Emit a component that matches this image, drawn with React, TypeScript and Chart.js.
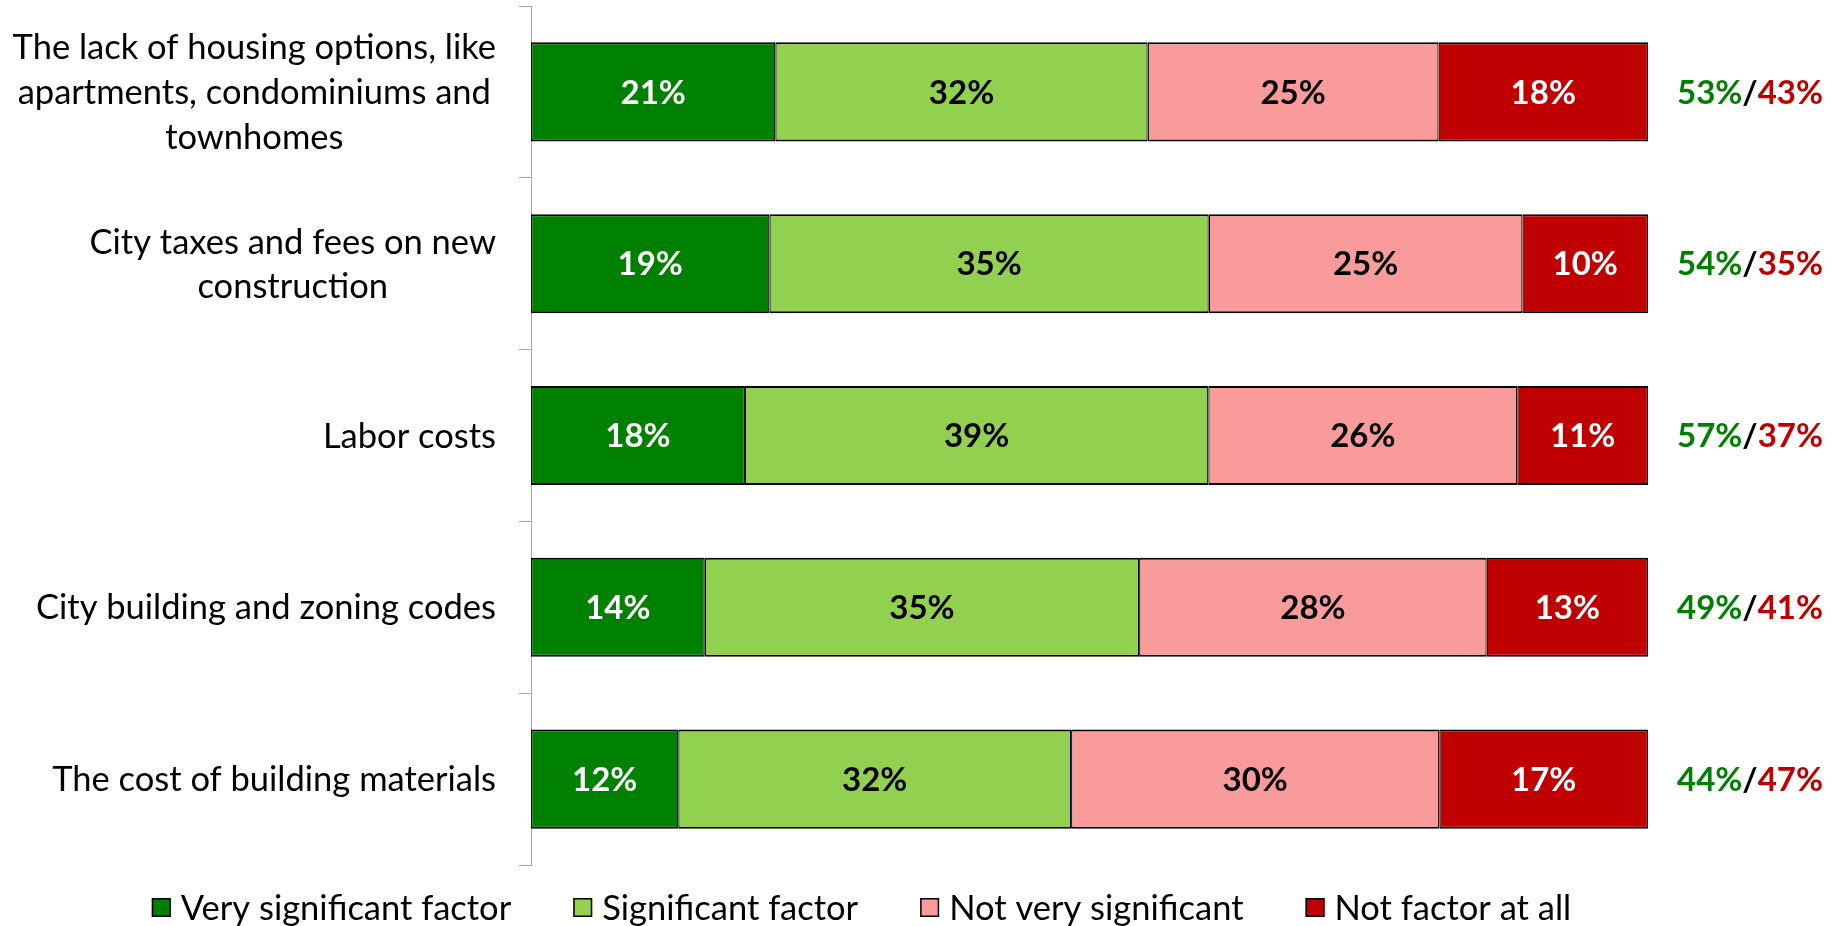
import React, { useEffect, useRef } from "react";
import { Chart, registerables } from "chart.js";

Chart.register(...registerables);

const categories: string[][] = [
  ["The lack of housing options, like", "apartments, condominiums and", "townhomes"],
  ["City taxes and fees on new", "construction"],
  ["Labor costs"],
  ["City building and zoning codes"],
  ["The cost of building materials"],
];
const seriesNames = ["Very significant factor", "Significant factor", "Not very significant", "Not factor at all"];
const verySignificant = [21, 19, 18, 14, 12];
const significant = [32, 35, 39, 35, 32];
const notVerySignificant = [25, 25, 26, 28, 30];
const notAtAll = [18, 10, 11, 13, 17];
const netSignificant = [53, 54, 57, 49, 44];
const netNotSignificant = [43, 35, 37, 41, 47];

const seriesColors = ["#008000", "#92D050", "#F99B9B", "#C00000"];
const labelColors = ["#FFFFFF", "#000000", "#000000", "#FFFFFF"];
const FONT = "Lato, 'Noto Sans', sans-serif";
const BOLD_SIZE = 33;
const TEXT_SIZE = 34.5;

const W = 1841;
const H = 926;

const labelsPlugin = {
  id: "customLabels",
  afterDatasetsDraw(chart: any) {
    const ctx = chart.ctx as CanvasRenderingContext2D;
    const area = chart.chartArea;
    const yScale = chart.scales.y;
    ctx.save();
    // data labels inside bars
    ctx.font = `bold ${BOLD_SIZE}px ${FONT}`;
    ctx.textAlign = "center";
    ctx.textBaseline = "middle";
    chart.data.datasets.forEach((ds: any, di: number) => {
      const meta = chart.getDatasetMeta(di);
      meta.data.forEach((bar: any, i: number) => {
        const x = (bar.x + bar.base) / 2;
        ctx.fillStyle = labelColors[di];
        ctx.fillText(`${ds.raw[i]}%`, x, bar.y + 1);
      });
    });
    // net labels on the right
    ctx.textAlign = "left";
    categories.forEach((_, i) => {
      const y = yScale.getPixelForValue(i) + 1;
      let x = area.right + 29;
      const parts: [string, string][] = [
        [`${netSignificant[i]}%`, "#008000"],
        ["/", "#000000"],
        [`${netNotSignificant[i]}%`, "#C00000"],
      ];
      parts.forEach(([t, c]) => {
        ctx.fillStyle = c;
        ctx.fillText(t, x, y);
        x += ctx.measureText(t).width;
      });
    });
    // category labels on the left (lines centred, block right-aligned)
    ctx.font = `${TEXT_SIZE}px ${FONT}`;
    ctx.fillStyle = "#000000";
    ctx.textAlign = "center";
    const lineH = 44.6;
    categories.forEach((lines, i) => {
      const cy = yScale.getPixelForValue(i);
      const maxW = Math.max(...lines.map((l) => ctx.measureText(l).width));
      const cx = area.left - 35 - maxW / 2;
      lines.forEach((l, k) => {
        const y = cy + (k - (lines.length - 1) / 2) * lineH + 1;
        ctx.fillText(l, cx, y);
      });
    });
    // legend
    ctx.textAlign = "left";
    const box = 19;
    const boxGap = 10;
    const itemGap = 62;
    const widths = chart.data.datasets.map((ds: any) => box + boxGap + ctx.measureText(ds.label).width);
    const total = widths.reduce((a: number, b: number) => a + b, 0) + itemGap * (widths.length - 1);
    let lx = 861.5 - total / 2;
    const ly = 907.5;
    chart.data.datasets.forEach((ds: any, di: number) => {
      ctx.fillStyle = ds.backgroundColor;
      ctx.fillRect(lx, ly - box / 2, box, box);
      ctx.strokeStyle = "#000000";
      ctx.lineWidth = 1.5;
      ctx.strokeRect(lx + 0.75, ly - box / 2 + 0.75, box - 1.5, box - 1.5);
      ctx.fillStyle = "#000000";
      ctx.fillText(ds.label, lx + box + boxGap, ly + 1);
      lx += widths[di] + itemGap;
    });
    ctx.restore();
  },
};

export default function App() {
  const canvasRef = useRef<HTMLCanvasElement | null>(null);

  useEffect(() => {
    if (!canvasRef.current) return;
    const raws = [verySignificant, significant, notVerySignificant, notAtAll];
    const totals = categories.map((_, i) => raws.reduce((s, arr) => s + arr[i], 0));
    const chart = new Chart(canvasRef.current, {
      type: "bar",
      data: {
        labels: categories.map((c) => c.join(" ")),
        datasets: raws.map((arr, di) => ({
          label: seriesNames[di],
          data: arr.map((v, i) => (v / totals[i]) * 100),
          raw: arr,
          backgroundColor: seriesColors[di],
          borderColor: "#000000",
          borderWidth: { top: 2, bottom: 2, left: 1.25, right: 1.25 },
          borderSkipped: false,
          barPercentage: 0.577,
          categoryPercentage: 1,
        })) as any,
      },
      options: {
        indexAxis: "y",
        responsive: false,
        animation: false,
        layout: { padding: { top: 6, bottom: 61, left: 0, right: W - 1648 } },
        scales: {
          x: { stacked: true, display: false, min: 0, max: 100 },
          y: {
            stacked: true,
            grid: {
              display: true,
              drawOnChartArea: false,
              drawTicks: true,
              tickLength: 12,
              color: "#A6A6A6",
              offset: true,
            },
            border: { display: true, color: "#A6A6A6", width: 1 },
            ticks: { display: false },
            afterFit: (s: any) => {
              s.width = 531;
            },
          },
        },
        plugins: {
          legend: { display: false },
          tooltip: { enabled: false },
        },
      } as any,
      plugins: [labelsPlugin],
    });
    return () => chart.destroy();
  }, []);

  return (
    <div style={{ position: "fixed", left: 0, top: 0, width: W, height: H, background: "#FFFFFF" }}>
      <canvas ref={canvasRef} width={W} height={H} style={{ width: W, height: H, display: "block" }} />
    </div>
  );
}
